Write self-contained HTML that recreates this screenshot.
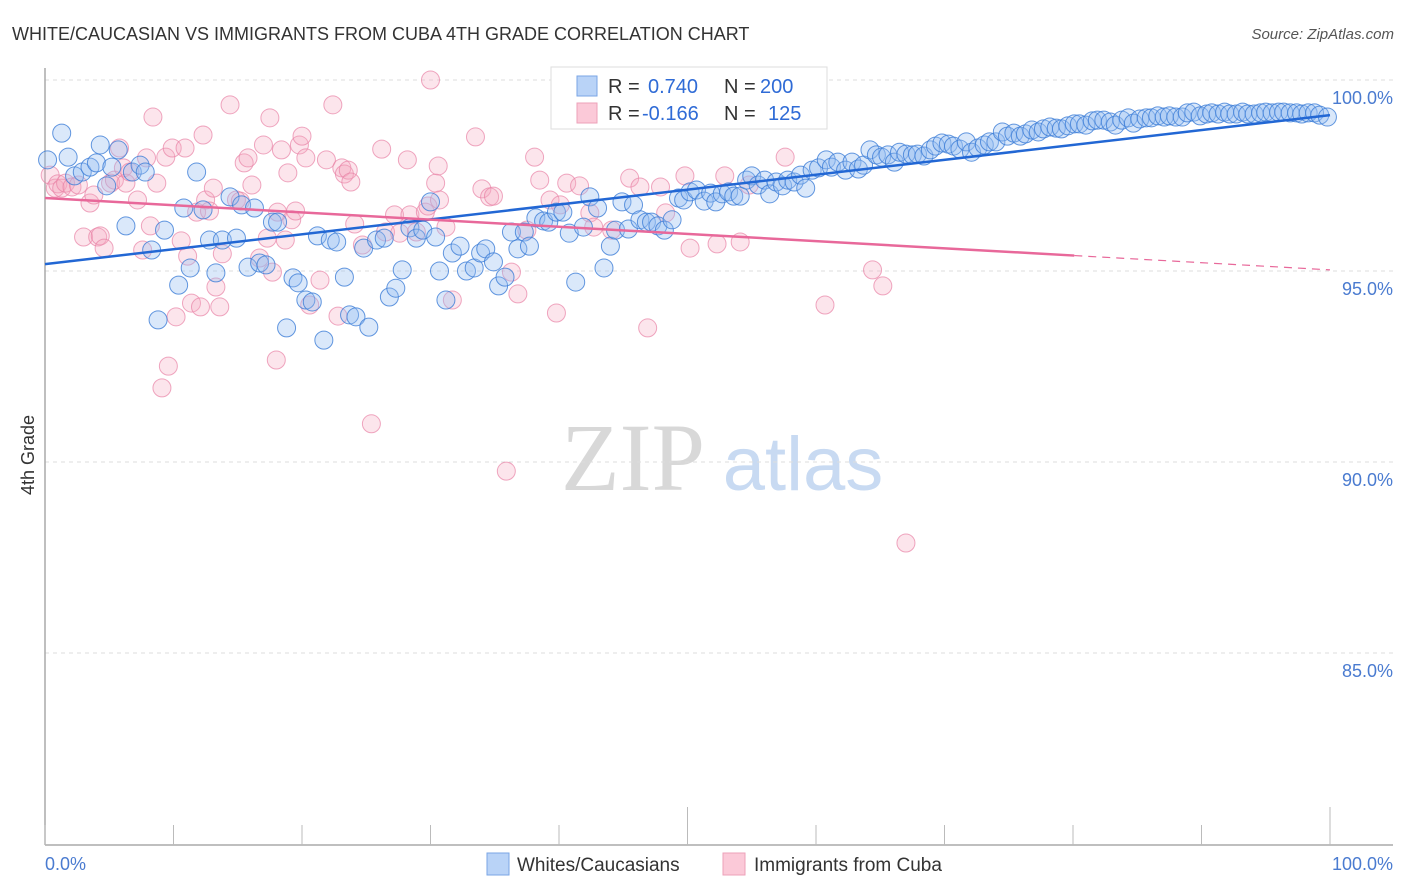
<!DOCTYPE html>
<html><head><meta charset="utf-8"><style>
body{margin:0;background:#fff;font-family:"Liberation Sans",sans-serif;}
svg{display:block}
</style></head><body>
<svg id="chart" width="1406" height="892">
<text x="12" y="40" font-size="18" fill="#333">WHITE/CAUCASIAN VS IMMIGRANTS FROM CUBA 4TH GRADE CORRELATION CHART</text>
<text x="1394" y="39" font-size="15" fill="#555" font-style="italic" text-anchor="end">Source: ZipAtlas.com</text>
<text x="34" y="455" font-size="18" fill="#333" text-anchor="middle" transform="rotate(-90 34 455)">4th Grade</text>
<g><text x="633" y="490" font-size="96" fill="#d8d8d8" font-family="Liberation Serif,serif" text-anchor="middle">ZIP</text><text x="803" y="490" font-size="76" fill="#c8daf2" text-anchor="middle">atlas</text></g>
<g id="grid"></g><g id="axes"></g><g id="pts"></g><g id="trends"></g>
<g>
<rect x="551" y="67" width="276" height="62" fill="#fff" stroke="#ddd"/>
<rect x="577" y="76" width="20" height="20" fill="#b9d3f7" stroke="#7aa6e6"/>
<rect x="577" y="103" width="20" height="20" fill="#fbc9d8" stroke="#eda1b9"/>
<g font-size="20" fill="#333">
<text x="608" y="93">R =</text><text x="648" y="93" fill="#2f6bd6">0.740</text><text x="724" y="93">N =</text><text x="760" y="93" fill="#2f6bd6">200</text>
<text x="608" y="120">R =</text><text x="642" y="120" fill="#2f6bd6">-0.166</text><text x="724" y="120">N =</text><text x="768" y="120" fill="#2f6bd6">125</text>
</g></g>
<g>
<rect x="487" y="853" width="22" height="22" fill="#b9d3f7" stroke="#7aa6e6"/>
<text x="517" y="871" font-size="19" fill="#333">Whites/Caucasians</text>
<rect x="723" y="853" width="22" height="22" fill="#fbc9d8" stroke="#eda1b9"/>
<text x="754" y="871" font-size="19" fill="#333">Immigrants from Cuba</text>
</g>
</svg>
<script>
const yTicks=[100,95,90,85];
const yTickLabels=["100.0%","95.0%","90.0%","85.0%"];
const xTickLabels=["0.0%","100.0%"];
const blueX=[0.2,1.3,1.8,2.3,2.9,3.5,4.0,4.3,4.8,5.2,5.7,6.3,6.8,7.4,7.8,8.3,8.8,9.3,10.4,10.8,11.3,11.8,12.3,12.8,13.3,13.8,14.4,14.9,15.3,15.8,16.3,16.7,17.2,17.7,18.1,18.8,19.3,19.7,20.3,20.8,21.2,21.7,22.2,22.7,23.3,23.7,24.2,24.8,25.2,25.8,26.4,26.8,27.3,27.8,28.4,28.9,29.4,30.0,30.4,30.7,31.2,31.7,32.3,32.8,33.4,33.9,34.3,34.9,35.3,35.8,36.3,36.8,37.3,37.7,38.2,38.8,39.2,39.8,40.3,40.8,41.3,41.9,42.4,43.0,43.5,44.0,44.4,44.9,45.4,45.8,46.3,46.8,47.2,47.7,48.2,48.8,49.3,49.7,50.2,50.7,51.3,51.8,52.2,52.7,53.2,53.6,54.1,54.6,55.0,55.5,56.0,56.4,56.9,57.4,57.8,58.3,58.8,59.2,59.7,60.2,60.8,61.2,61.7,62.3,62.8,63.3,63.7,64.2,64.7,65.1,65.6,66.1,66.5,67.0,67.5,67.9,68.4,68.9,69.3,69.8,70.3,70.7,71.2,71.7,72.1,72.6,73.1,73.5,74.0,74.5,74.9,75.4,75.9,76.3,76.8,77.3,77.7,78.2,78.7,79.1,79.6,80.1,80.5,81.0,81.5,81.9,82.4,82.9,83.3,83.8,84.3,84.7,85.2,85.7,86.1,86.6,87.1,87.5,88.0,88.5,88.9,89.4,89.9,90.4,90.8,91.3,91.8,92.2,92.7,93.2,93.6,94.1,94.6,95.0,95.5,96.0,96.4,96.9,97.4,97.8,98.3,98.8,99.2,99.8];
const blueY=[97.91,98.61,97.98,97.49,97.59,97.72,97.83,98.30,97.23,97.72,98.17,96.18,97.59,97.77,97.59,95.55,93.72,96.07,94.63,96.65,95.08,97.59,96.60,95.81,94.95,95.81,96.94,95.86,96.73,95.10,96.65,95.21,95.16,96.28,96.28,93.51,94.82,94.69,94.24,94.19,95.92,93.19,95.81,95.76,94.84,93.85,93.80,95.60,93.53,95.81,95.86,94.32,94.55,95.03,96.13,95.86,96.07,96.81,95.89,95.00,94.24,95.47,95.65,95.00,95.08,95.47,95.58,95.24,94.61,94.84,96.02,95.58,96.02,95.65,96.39,96.31,96.28,96.54,96.54,95.99,94.71,96.15,96.94,96.65,95.08,95.65,96.07,96.81,96.10,96.73,96.34,96.28,96.28,96.18,96.07,96.34,96.91,96.86,97.07,97.12,96.83,97.04,96.81,97.02,97.07,96.96,96.96,97.38,97.49,97.25,97.38,97.02,97.33,97.23,97.38,97.33,97.51,97.17,97.64,97.70,97.91,97.72,97.85,97.64,97.85,97.67,97.77,98.17,98.04,97.98,98.04,97.85,98.11,98.06,98.04,98.06,98.01,98.17,98.27,98.35,98.32,98.27,98.19,98.38,98.11,98.22,98.30,98.38,98.38,98.64,98.53,98.61,98.53,98.59,98.69,98.64,98.72,98.77,98.74,98.72,98.80,98.85,98.85,98.82,98.93,98.95,98.95,98.90,98.82,98.95,99.01,98.87,98.98,99.01,99.01,99.06,99.03,99.06,99.03,99.03,99.14,99.16,99.06,99.11,99.14,99.11,99.16,99.11,99.11,99.16,99.11,99.11,99.14,99.16,99.14,99.16,99.16,99.14,99.14,99.11,99.14,99.14,99.08,99.03];
const pinkX=[0.4,0.8,1.0,1.3,1.6,2.1,2.6,3.0,3.5,3.8,4.1,4.3,4.6,5.1,5.4,5.8,6.1,6.3,6.6,7.2,7.6,7.9,8.2,8.4,8.7,9.1,9.4,9.6,9.9,10.2,10.6,10.9,11.1,11.4,11.8,12.1,12.3,12.5,12.8,13.1,13.3,13.6,13.8,14.4,14.9,15.2,15.5,15.8,16.1,16.7,17.0,17.3,17.5,17.7,18.0,18.1,18.4,18.7,18.9,19.2,19.5,19.8,20.0,20.3,20.6,21.4,21.9,22.4,22.8,23.1,23.3,23.6,23.8,24.1,24.7,25.4,26.2,26.5,27.2,27.6,28.2,28.4,28.9,29.6,29.8,30.4,30.6,30.7,31.2,31.7,33.5,34.0,34.6,34.9,35.9,36.3,36.8,37.5,38.1,38.5,39.3,39.8,40.1,40.6,41.6,42.4,42.7,44.1,45.5,46.3,46.9,47.9,48.3,49.8,50.2,52.3,52.9,54.1,54.8,57.6,60.7,64.4,65.2,67.0,30.0];
const pinkY=[97.51,97.17,97.28,97.17,97.30,97.20,97.25,95.89,96.78,96.99,95.89,95.92,95.60,97.30,97.38,98.22,97.70,97.30,97.59,96.86,95.55,97.96,96.18,99.03,97.30,91.94,97.98,92.51,98.22,93.80,95.79,98.22,95.39,94.16,96.54,94.06,98.56,96.86,96.57,97.17,94.58,94.06,95.45,99.35,96.86,96.83,97.83,97.96,97.25,95.34,98.30,95.86,99.01,94.97,92.67,96.54,98.17,95.81,97.57,96.34,96.57,98.30,98.53,97.96,94.11,94.76,97.91,99.35,93.82,97.70,97.54,97.64,97.33,96.23,95.68,91.00,98.19,96.02,96.47,95.99,97.91,96.47,96.02,96.54,96.70,97.30,97.75,96.86,96.15,94.24,98.51,97.15,96.94,96.96,89.76,94.97,94.40,96.07,97.98,97.38,96.86,93.90,96.73,97.30,97.23,96.52,96.15,96.07,97.43,97.20,93.51,97.20,96.52,97.49,95.60,95.71,97.49,95.76,97.25,97.98,94.11,95.03,94.61,87.88,100.0];
const blueTrend=[95.18,99.08];
const pinkTrend=[96.91,95.03];
const pinkSolidEnd=80.1;

const NS="http://www.w3.org/2000/svg";
const X0=45,X1=1330,Y100=80,PX=38.2;
const xs=p=>X0+(X1-X0)*p/100;
const ys=v=>Y100+(100-v)*PX;
function mk(tag,attrs,parent){const e=document.createElementNS(NS,tag);for(const k in attrs)e.setAttribute(k,attrs[k]);parent.appendChild(e);return e;}
const grid=document.getElementById('grid'),axes=document.getElementById('axes'),pts=document.getElementById('pts'),tr=document.getElementById('trends');
yTicks.forEach((t,i)=>{
  const l=mk('line',{x1:X0,x2:1393,y1:ys(t),y2:ys(t),stroke:'#ddd','stroke-dasharray':'4 4'},grid);
  
  
  const tx=mk('text',{x:1393,y:ys(t)+24,'font-size':18,fill:'#4a7bd0','text-anchor':'end'},axes);
  tx.textContent=yTickLabels[i];
  
  
});
const ax=mk('line',{x1:X0,x2:1393,y1:845,y2:845,stroke:'#aaa','stroke-width':1.5},axes);


const ay=mk('line',{x1:X0,x2:X0,y1:68,y2:845,stroke:'#aaa','stroke-width':1.5},axes);


for(let i=0;i<=10;i++){
  const p=i*10;const tall=(i==5||i==10);
  const t=mk('line',{x1:xs(p),x2:xs(p),y1:tall?807:825,y2:845,stroke:'#bbb'},axes);
  
  
}
const xl0=mk('text',{x:X0,y:870,'font-size':18,fill:'#4a7bd0'},axes);xl0.textContent=xTickLabels[0];


const xl1=mk('text',{x:1393,y:870,'font-size':18,fill:'#4a7bd0','text-anchor':'end'},axes);xl1.textContent=xTickLabels[1];


pinkX.forEach((x,i)=>{
  const c=mk('circle',{cx:xs(x),cy:ys(pinkY[i]),r:9,fill:'rgba(246,168,192,0.3)',stroke:'rgba(232,130,165,0.7)','stroke-width':1},pts);
  
  
});
blueX.forEach((x,i)=>{
  const c=mk('circle',{cx:xs(x),cy:ys(blueY[i]),r:9,fill:'rgba(150,190,240,0.35)',stroke:'rgba(60,125,215,0.8)','stroke-width':1},pts);
  
  
});
const bt=mk('line',{x1:xs(0),y1:ys(blueTrend[0]),x2:xs(100),y2:ys(blueTrend[1]),stroke:'#2267d4','stroke-width':2.5},tr);


const pAt=p=>pinkTrend[0]+(pinkTrend[1]-pinkTrend[0])*p/100;
const pt=mk('line',{x1:xs(0),y1:ys(pAt(0)),x2:xs(pinkSolidEnd),y2:ys(pAt(pinkSolidEnd)),stroke:'#e8689a','stroke-width':2.5},tr);


const pd=mk('line',{x1:xs(pinkSolidEnd),y1:ys(pAt(pinkSolidEnd)),x2:xs(100),y2:ys(pAt(100)),stroke:'#e8689a','stroke-width':1.2,'stroke-dasharray':'8 6'},tr);


</script>
</body></html>
